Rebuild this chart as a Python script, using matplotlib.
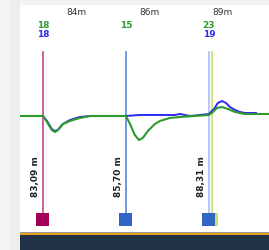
import matplotlib
matplotlib.use("Agg")
from matplotlib import pyplot as plt
from matplotlib.patches import Rectangle
import matplotlib.transforms as mtransforms

# distance axis (m) and the two signal traces
green_x = [82.37, 83.09, 83.22, 83.37, 83.47, 83.56, 83.72, 83.94, 84.25, 84.57,
           85.70, 85.83, 85.98, 86.11, 86.23, 86.39, 86.61, 86.77, 87.08, 87.40,
           88.31, 88.44, 88.56, 88.72, 88.91, 89.13, 89.44, 90.20]
green_y = [0, 0, -6, -14, -16, -14, -8, -5, -2, 0,
           0, -8, -19, -24, -22, -15, -8, -5, -2, -1,
           1, 4, 8, 9, 7, 4, 2, 2]
blue_x = [82.37, 83.09, 83.22, 83.37, 83.47, 83.56, 83.72, 83.94, 84.25, 84.57,
          85.70, 86.11, 86.77, 87.24, 87.40, 87.71, 88.03, 88.31, 88.47, 88.59,
          88.72, 88.85, 88.97, 89.13, 89.29, 89.44, 89.79]
blue_y = [0, 0, -5, -13, -15, -14, -8, -4, -1, 0,
          0, 1, 1, 1, 2, 0, 1, 2, 7, 13,
          15, 13, 9, 6, 4, 3, 3]

# event markers
mark_pos = [83.09, 85.70, 88.31, 88.40]
mark_line_col = ["#c8478a", "#5b86dc", "#a9c1ea", "#c9e36a"]
mark_box_col = ["#a3005a", "#3366c4", "#3366c4", "#c9e36a"]

# distance labels (the two close markers share one spot)
label_pos = [83.09, 85.70, 88.31]
label_text = ["83,09 m", "85,70 m", "88,31 m"]

# counts above the markers (green / blue)
count_pos = [83.09, 85.70, 88.31]
count_green = ["18", "15", "23"]
count_blue = ["18", "", "19"]

# distance ruler at the top
tick_pos = [84.13, 86.43, 88.73]
tick_labels = ["84m", "86m", "89m"]

W, H = 269, 250
fig = plt.figure(figsize=(W / 100, H / 100), dpi=100)
fig.patch.set_facecolor("#f3f3f3")
fig.add_artist(Rectangle((10 / W, 0), 10 / W, 1, transform=fig.transFigure,
                         color="#eeeeee", lw=0))

# dark footer strip with orange edge
foot = fig.add_axes([20 / W, 0, 1 - 20 / W, 15 / H])
foot.set_facecolor("#233246")
foot.set_xticks([]); foot.set_yticks([])
for s in foot.spines.values():
    s.set_visible(False)
fig.add_artist(Rectangle((20 / W, 15 / H), 1 - 20 / W, 2 / H, transform=fig.transFigure,
                         color="#e8a21c", lw=0))
fig.add_artist(Rectangle((20 / W, 17 / H), 1 - 20 / W, 1 / H, transform=fig.transFigure,
                         color="#9a9a9a", lw=0))

ax = fig.add_axes([20 / W, 18 / H, 1 - 20 / W, 227 / H])
ax.set_facecolor("white")
for s in ax.spines.values():
    s.set_visible(False)
ax.set_xticks([]); ax.set_yticks([])
ax.set_xlim(82.37, 90.20)
ax.set_ylim(-116, 111)

trans = mtransforms.blended_transform_factory(ax.transData, ax.transAxes)

# marker lines (from under the counts down to the boxes)
for i in range(len(mark_pos)):
    ax.plot([mark_pos[i], mark_pos[i]], [0.085, 0.795], color=mark_line_col[i],
            lw=1.2, transform=trans, zorder=1)

ax.plot(green_x, green_y, color="#2e9a2e", lw=1.5, zorder=3)
ax.plot(blue_x, blue_y, color="#2a2af0", lw=1.4, zorder=2)

# boxes at the bottom (last one drawn first so blue sits on top)
box_w = 0.41
for i in [3, 0, 1, 2]:
    ax.add_patch(Rectangle((mark_pos[i] - box_w / 2, 0.027), box_w, 0.057,
                           transform=trans, color=mark_box_col[i], lw=0, zorder=4))

# rotated distance labels, left of their line
for i in range(len(label_pos)):
    ax.text(label_pos[i] - 0.09, 0.243, label_text[i], rotation=90, ha="center", va="bottom",
            fontsize=6.5, fontweight="bold", color="#222222", transform=trans,
            rotation_mode="anchor")

# counts
for i in range(len(count_pos)):
    ax.text(count_pos[i], 0.91, count_green[i], ha="center", va="center", fontsize=6.5,
            fontweight="bold", color="#2e9a2e", transform=trans)
    ax.text(count_pos[i], 0.87, count_blue[i], ha="center", va="center", fontsize=6.5,
            fontweight="bold", color="#2a2af0", transform=trans)

# ruler labels
for i in range(len(tick_pos)):
    ax.text(tick_pos[i], 0.965, tick_labels[i], ha="center", va="center", fontsize=6.5,
            color="#333333", transform=trans)

fig.savefig("out.png", dpi=100, facecolor=fig.get_facecolor())
